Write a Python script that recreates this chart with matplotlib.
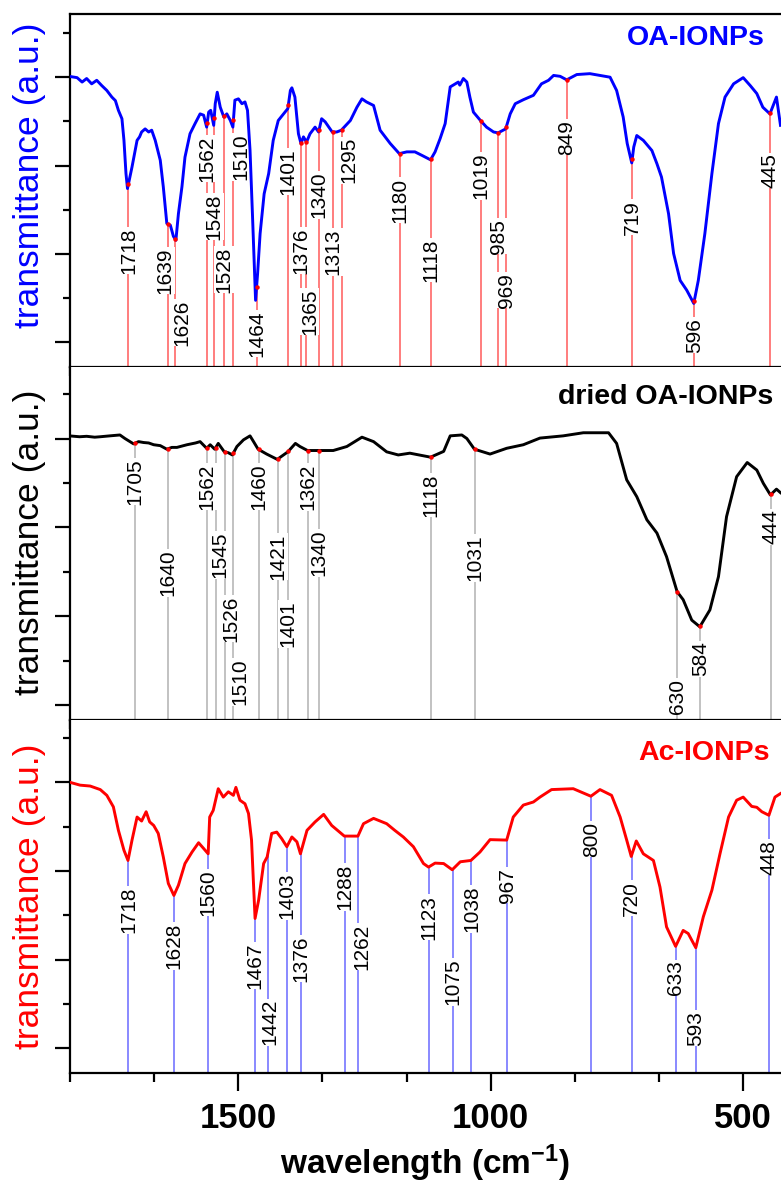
import numpy as np
import matplotlib
matplotlib.use('Agg')
import matplotlib.pyplot as plt
from matplotlib.ticker import MultipleLocator, AutoMinorLocator

plt.rcParams['font.family'] = ['Liberation Sans', 'DejaVu Sans']
plt.rcParams['mathtext.fontset'] = 'custom'
plt.rcParams['mathtext.rm'] = 'Liberation Sans:bold'
plt.rcParams['mathtext.bf'] = 'Liberation Sans:bold'
plt.rcParams['mathtext.default'] = 'bf'

# --- espectro OA-IONPs (numero de onda, transmitancia u.a.) ---
wn_oa = [1836, 1820, 1810, 1801, 1791, 1781, 1771, 1761, 1751, 1744, 1738, 1731, 1727, 1723,
         1720, 1711, 1701, 1696, 1692, 1685, 1678, 1672, 1665, 1655, 1649, 1642, 1635, 1629,
         1624, 1619, 1612, 1606, 1596, 1586, 1576, 1569, 1563, 1559, 1555, 1549, 1546, 1542,
         1536, 1529, 1523, 1516, 1511, 1507, 1500, 1493, 1487, 1482, 1477, 1472, 1466, 1462,
         1457, 1449, 1440, 1431, 1421, 1402, 1397, 1394, 1388, 1381, 1376, 1371, 1365, 1358,
         1348, 1341, 1335, 1328, 1314, 1305, 1296, 1278, 1265, 1255, 1246, 1232, 1219, 1199,
         1181, 1166, 1150, 1136, 1119, 1110, 1100, 1090, 1080, 1070, 1064, 1061, 1054, 1047,
         1041, 1034, 1020, 1008, 994, 985, 970, 961, 951, 935, 915, 899, 885, 875, 862, 849,
         829, 803, 763, 750, 737, 729, 720, 716, 710, 697, 680, 670, 661, 647, 637, 624, 611,
         597, 588, 575, 561, 548, 535, 518, 499, 485, 472, 460, 446, 433, 425]
t_oa = [6.02, 5.99, 5.89, 5.97, 5.85, 5.93, 5.81, 5.70, 5.55, 5.47, 5.25, 5.06, 4.57, 3.82,
        3.48, 3.97, 4.57, 4.65, 4.76, 4.83, 4.76, 4.80, 4.57, 4.12, 3.52, 2.69, 2.65, 2.40,
        2.31, 2.91, 3.52, 4.19, 4.72, 4.95, 5.17, 5.14, 4.87, 5.21, 5.25, 4.91, 5.40, 5.66,
        5.32, 5.10, 5.17, 5.02, 4.87, 5.48, 5.51, 5.40, 5.44, 5.25, 4.35, 2.84, 0.95, 1.55,
        2.46, 3.36, 3.82, 4.57, 5.02, 5.29, 5.70, 5.76, 5.55, 4.72, 4.50, 4.65, 4.53, 4.72,
        4.87, 4.76, 5.06, 4.99, 4.76, 4.76, 4.80, 5.02, 5.32, 5.51, 5.44, 5.36, 4.80, 4.50,
        4.27, 4.31, 4.31, 4.23, 4.13, 4.31, 4.61, 4.95, 5.78, 5.85, 5.89, 5.82, 5.97, 5.89,
        5.55, 5.21, 5.02, 4.87, 4.76, 4.74, 4.83, 5.17, 5.40, 5.49, 5.59, 5.85, 5.93, 6.04,
        6.02, 5.94, 6.06, 6.08, 6.00, 5.70, 5.10, 4.50, 4.06, 4.42, 4.68, 4.57, 4.34, 4.04,
        3.74, 2.91, 2.01, 1.40, 1.18, 0.88, 1.40, 2.46, 3.82, 4.95, 5.55, 5.85, 5.99, 5.81,
        5.63, 5.32, 5.17, 5.55, 4.91]
peaks_oa = [1718, 1639, 1626, 1562, 1548, 1528, 1510, 1464, 1401, 1376, 1365, 1340, 1313,
            1295, 1180, 1118, 1019, 985, 969, 849, 719, 596, 445]
laby_oa = [2.08, 1.63, 0.45, 4.16, 2.85, 1.65, 4.19, 0.20, 3.87, 2.08, 0.70, 3.33, 2.04,
           4.12, 3.21, 1.86, 3.76, 2.40, 1.18, 4.64, 2.83, 0.16, 3.89]

# --- espectro dried OA-IONPs ---
wn_dr = [1836, 1815, 1801, 1785, 1774, 1755, 1735, 1725, 1708, 1698, 1688, 1678, 1668, 1655,
         1642, 1632, 1622, 1602, 1585, 1576, 1563, 1556, 1547, 1540, 1528, 1520, 1512, 1503,
         1490, 1477, 1470, 1461, 1444, 1423, 1402, 1387, 1378, 1363, 1341, 1312, 1285, 1255,
         1232, 1206, 1183, 1160, 1119, 1093, 1080, 1057, 1047, 1032, 1001, 968, 935, 902, 856,
         816, 766, 750, 730, 710, 690, 670, 651, 630, 618, 601, 585, 565, 548, 532, 512, 491,
         472, 459, 445, 433, 425]
t_dr = [6.06, 6.04, 6.05, 6.03, 6.04, 6.06, 6.08, 6.00, 5.88, 5.93, 5.91, 5.90, 5.86, 5.84,
        5.76, 5.80, 5.80, 5.86, 5.90, 5.93, 5.78, 5.86, 5.76, 5.89, 5.70, 5.68, 5.63, 5.82,
        5.97, 6.06, 5.93, 5.76, 5.65, 5.53, 5.70, 5.89, 5.82, 5.73, 5.73, 5.73, 5.82, 6.03,
        5.93, 5.70, 5.63, 5.67, 5.58, 5.71, 6.06, 6.08, 6.00, 5.76, 5.65, 5.78, 5.86, 6.01,
        6.06, 6.13, 6.13, 5.89, 5.07, 4.69, 4.17, 3.87, 3.34, 2.55, 2.37, 1.91, 1.76, 2.14,
        2.89, 4.24, 5.14, 5.46, 5.29, 4.99, 4.73, 4.86, 4.78]
peaks_dr = [1705, 1640, 1562, 1545, 1526, 1510, 1460, 1421, 1401, 1362, 1340, 1118, 1031,
            630, 584, 444]
laby_dr = [5.03, 2.97, 4.92, 3.38, 1.94, 0.52, 4.92, 3.34, 1.82, 4.91, 3.42, 4.73, 3.31,
           0.20, 1.04, 4.01]

# --- espectro Ac-IONPs ---
wn_ac = [1836, 1814, 1794, 1774, 1761, 1748, 1738, 1727, 1719, 1711, 1701, 1692, 1683, 1676,
         1668, 1659, 1649, 1639, 1628, 1619, 1606, 1592, 1579, 1569, 1560, 1557, 1550, 1540,
         1530, 1520, 1510, 1505, 1497, 1487, 1480, 1474, 1467, 1460, 1450, 1443, 1434, 1424,
         1414, 1404, 1394, 1384, 1377, 1364, 1348, 1331, 1315, 1290, 1263, 1252, 1232, 1206,
         1190, 1173, 1153, 1133, 1123, 1110, 1093, 1076, 1060, 1039, 1021, 1001, 968, 955,
         935, 915, 902, 879, 836, 801, 783, 760, 743, 730, 721, 711, 697, 677, 664, 651, 633,
         618, 608, 593, 578, 561, 545, 528, 512, 499, 482, 472, 462, 448, 436, 425]
t_ac = [6.01, 5.94, 5.92, 5.84, 5.71, 5.45, 4.92, 4.47, 4.24, 4.70, 5.22, 5.13, 5.34, 5.11,
        5.03, 4.85, 4.32, 3.72, 3.45, 3.68, 4.17, 4.43, 4.64, 4.51, 4.39, 5.22, 5.37, 5.86,
        5.67, 5.79, 5.71, 5.89, 5.60, 5.52, 5.30, 4.70, 2.93, 3.34, 4.17, 4.32, 4.85, 4.88,
        4.73, 4.55, 4.77, 4.66, 4.39, 4.92, 5.11, 5.28, 5.03, 4.79, 4.79, 5.07, 5.19, 5.07,
        4.92, 4.77, 4.55, 4.17, 4.09, 4.18, 4.17, 4.03, 4.21, 4.24, 4.43, 4.71, 4.70, 5.22,
        5.49, 5.56, 5.67, 5.84, 5.86, 5.69, 5.84, 5.71, 5.22, 4.70, 4.33, 4.68, 4.39, 4.24,
        3.64, 2.74, 2.30, 2.66, 2.59, 2.27, 2.97, 3.57, 4.39, 5.22, 5.60, 5.67, 5.46, 5.44,
        5.34, 5.26, 5.67, 5.75]
peaks_ac = [1718, 1628, 1560, 1467, 1442, 1403, 1376, 1288, 1262, 1123, 1075, 1038, 967,
            800, 720, 633, 593, 448]
laby_ac = [3.12, 2.31, 3.52, 1.87, 0.59, 3.44, 2.03, 3.64, 2.29, 2.96, 1.50, 3.14, 3.68,
           4.72, 3.39, 1.60, 0.45, 4.31]

xticks = [1500, 1000, 500]

# deslocamento horizontal de alguns rotulos (cm-1)
shift_oa = {1626: -14, 1510: -14, 1295: -14, 1639: 6, 1365: -6}
shift_dr = {1545: -8, 1526: -12, 1510: -12}
shift_ac = {1442: -5, 1262: -6}

paineis = [
    dict(wn=wn_oa, t=t_oa, pk=peaks_oa, ly=laby_oa, sh=shift_oa, cor='#0000ff', lc='#ff5050',
         la=0.8, dot='#ff0000', nome='OA-IONPs', bottom=0.6908, ylim=(-0.56, 7.43),
         tx=0.9775, ty=0.932, yl=175.5),
    dict(wn=wn_dr, t=t_dr, pk=peaks_dr, ly=laby_dr, sh=shift_dr, cor='black', lc='#bdbdbd',
         la=1.0, dot='#ff0000', nome='dried OA-IONPs', bottom=0.3934, ylim=(-0.34, 7.61),
         tx=0.9888, ty=0.915, yl=542),
    dict(wn=wn_ac, t=t_ac, pk=peaks_ac, ly=laby_ac, sh=shift_ac, cor='#ff0000', lc='#6a6aff',
         la=0.85, dot=None, nome='Ac-IONPs', bottom=0.0960, ylim=(-0.56, 7.41),
         tx=0.9845, ty=0.9065, yl=896),
]

fig = plt.figure(figsize=(7.81, 11.87), dpi=100)
x0 = 69.5 / 781

for i, p in enumerate(paineis):
    ax = fig.add_axes([x0, p['bottom'], 1 - x0, 353 / 1187])
    wn = np.array(p['wn'], dtype=float)
    t = np.array(p['t'], dtype=float)
    ax.plot(wn, t, color=p['cor'], lw=2.1, zorder=4)
    ax.set_xlim(1835, 424)
    ax.set_ylim(*p['ylim'])

    # linhas verticais dos picos
    pk = np.array(p['pk'], dtype=float)
    ytop = np.interp(pk, wn[::-1], t[::-1])
    ax.vlines(pk, p['ylim'][0], ytop, color=p['lc'], lw=1.3, alpha=p['la'], zorder=1)
    if p['dot']:
        ax.plot(pk, ytop, 'o', ms=2.2, color=p['dot'], zorder=5)
    for v, ly in zip(p['pk'], p['ly']):
        ax.text(v + p['sh'].get(v, 0), ly, str(v), rotation=90, ha='center', va='center',
                fontsize=15, zorder=3,
                bbox=dict(facecolor='white', edgecolor='none', pad=0.3))

    ax.text(p['tx'], p['ty'], p['nome'], transform=ax.transAxes, ha='right', va='center',
            fontsize=20.5, fontweight='bold', color=p['cor'])

    for s in ax.spines.values():
        s.set_linewidth(1.6)
    ax.spines['right'].set_visible(False)
    if i > 0:
        ax.spines['top'].set_visible(False)

    ax.set_xticks(xticks)
    ax.xaxis.set_minor_locator(AutoMinorLocator(3))
    ax.yaxis.set_major_locator(MultipleLocator(2))
    ax.yaxis.set_minor_locator(MultipleLocator(1))
    ax.tick_params(axis='x', which='major', direction='out', length=13, width=1.6, pad=8)
    ax.tick_params(axis='x', which='minor', direction='out', length=6.5, width=1.6)
    ax.tick_params(axis='y', which='major', direction='out', length=10.5, width=1.6)
    ax.tick_params(axis='y', which='minor', direction='out', length=5, width=1.6)
    ax.tick_params(labelleft=False)
    if i < 2:
        ax.tick_params(labelbottom=False)
    else:
        ax.set_xticklabels([str(v) for v in xticks], fontsize=25, fontweight='bold')

    fig.text(30 / 781, 1 - p['yl'] / 1187, 'transmittance (a.u.)', rotation=90,
             ha='center', va='center', fontsize=25.5, color=p['cor'])

fig.text(425 / 781, 1 - 1163 / 1187, r'wavelength (cm$^{-1}$)', ha='center', va='center',
         fontsize=24, fontweight='bold')

fig.savefig('out.png', dpi=100)
